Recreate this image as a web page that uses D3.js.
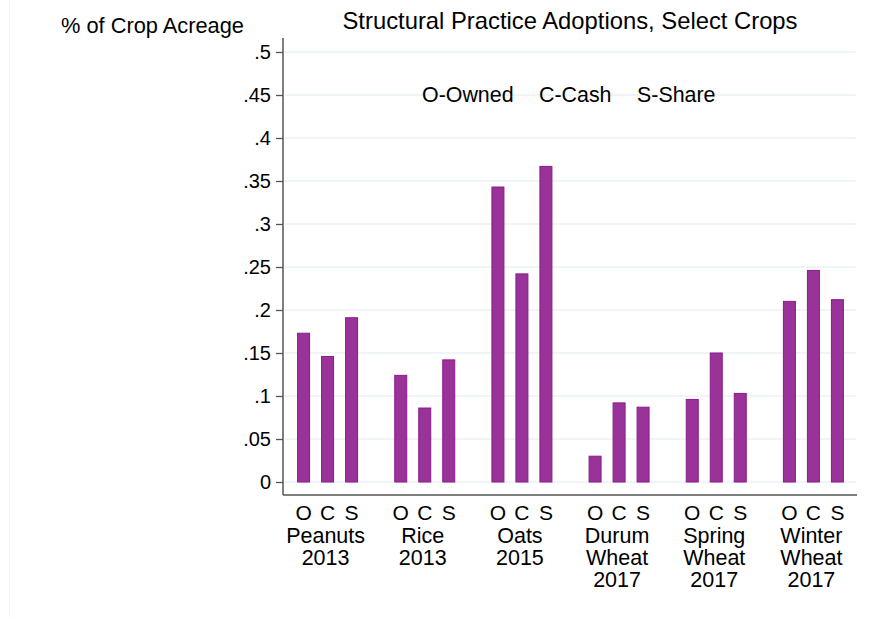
<!DOCTYPE html>
<html>
<head>
<meta charset="utf-8">
<script src="https://cdn.jsdelivr.net/npm/d3@7"></script>
<style>
  body { margin: 0; background: #fff; }
  svg { display: block; font-family: "Liberation Sans", Arial, sans-serif; }
</style>
</head>
<body>
<svg id="chart" width="869" height="617"></svg>
<script>
// crop groups, each label split into lines
const crops = ["Peanuts 2013", "Rice 2013", "Oats 2015", "Durum Wheat 2017", "Spring Wheat 2017", "Winter Wheat 2017"];
const cropLines = [["Peanuts", "2013"], ["Rice", "2013"], ["Oats", "2015"], ["Durum", "Wheat", "2017"], ["Spring", "Wheat", "2017"], ["Winter", "Wheat", "2017"]];
const tenure = ["O", "C", "S"];
const owned = [0.173, 0.124, 0.343, 0.030, 0.096, 0.210];
const cash  = [0.146, 0.086, 0.242, 0.092, 0.150, 0.246];
const share = [0.191, 0.142, 0.367, 0.087, 0.103, 0.212];
const yTicks = [0, 0.05, 0.1, 0.15, 0.2, 0.25, 0.3, 0.35, 0.4, 0.45, 0.5];
const legendItems = ["O-Owned", "C-Cash", "S-Share"];

const svg = d3.select("#chart");
const width = 869, height = 617;

// faint frame on the left
svg.append("line")
  .attr("x1", 9.5).attr("x2", 9.5).attr("y1", 0).attr("y2", height)
  .attr("stroke", "#f3f3f3");

const y = d3.scaleLinear().domain([0, 0.5]).range([482, 52]);
const x0 = d3.scaleBand().domain(crops).range([279, 862]).padding(0);
const x1 = d3.scaleBand().domain(tenure).range([-36, 36]).paddingInner(0.5).paddingOuter(0.25);

const axisLeft = 283, axisRight = 857, axisBottom = 495;

// gridlines
svg.append("g")
  .selectAll("line")
  .data(yTicks)
  .join("line")
  .attr("x1", axisLeft + 2).attr("x2", axisRight - 1)
  .attr("y1", d => y(d)).attr("y2", d => y(d))
  .attr("stroke", "#eaf1f3")
  .attr("stroke-width", 1.5);

// y axis
const yAxis = d3.axisLeft(y)
  .tickValues(yTicks)
  .tickSize(7)
  .tickPadding(5)
  .tickFormat(d => d === 0 ? "0" : d3.format(".2~f")(d).replace(/^0/, ""));

svg.append("g")
  .attr("transform", `translate(${axisLeft},0)`)
  .call(yAxis)
  .call(g => g.select(".domain").remove())
  .call(g => g.selectAll(".tick line").attr("stroke", "#555").attr("stroke-width", 1.3))
  .call(g => g.selectAll(".tick text")
    .attr("fill", "#000")
    .style("font-size", "20px")
    .style("font-family", "Liberation Sans, Arial, sans-serif"));

svg.append("line")
  .attr("x1", axisLeft).attr("x2", axisLeft)
  .attr("y1", 38).attr("y2", axisBottom)
  .attr("stroke", "#555").attr("stroke-width", 1.5);

svg.append("line")
  .attr("x1", axisLeft).attr("x2", axisRight)
  .attr("y1", axisBottom).attr("y2", axisBottom)
  .attr("stroke", "#555").attr("stroke-width", 1.5);

// bars
const rows = [];
crops.forEach((c, i) => {
  rows.push({ crop: c, t: "O", v: owned[i] });
  rows.push({ crop: c, t: "C", v: cash[i] });
  rows.push({ crop: c, t: "S", v: share[i] });
});

svg.append("g")
  .selectAll("rect")
  .data(rows)
  .join("rect")
  .attr("x", d => x0(d.crop) + x0.bandwidth() / 2 + x1(d.t))
  .attr("width", x1.bandwidth())
  .attr("y", d => y(d.v))
  .attr("height", d => y(0) - y(d.v))
  .attr("fill", "#993399")
  .attr("stroke", "#8a1b8a")
  .attr("stroke-width", 1);

// O C S letters under bars
svg.append("g")
  .selectAll("text")
  .data(rows)
  .join("text")
  .attr("x", d => x0(d.crop) + x0.bandwidth() / 2 + x1(d.t) + x1.bandwidth() / 2)
  .attr("y", 520)
  .attr("text-anchor", "middle")
  .style("font-size", "21px")
  .text(d => d.t);

// crop labels
crops.forEach((c, i) => {
  const t = svg.append("text")
    .attr("text-anchor", "middle")
    .style("font-size", "21.5px");
  cropLines[i].forEach((ln, j) => {
    t.append("tspan")
      .attr("x", x0(c) + x0.bandwidth() / 2 - 2)
      .attr("y", 542.5 + j * 22)
      .text(ln);
  });
});

// titles
svg.append("text")
  .attr("x", 570).attr("y", 29)
  .attr("text-anchor", "middle")
  .style("font-size", "23.8px")
  .text("Structural Practice Adoptions, Select Crops");

svg.append("text")
  .attr("x", 61).attr("y", 33)
  .style("font-size", "21.8px")
  .text("% of Crop Acreage");

// legend note
const legendX = [422, 539, 637];
svg.append("g")
  .selectAll("text")
  .data(legendItems)
  .join("text")
  .attr("x", (d, i) => legendX[i])
  .attr("y", 102)
  .style("font-size", "21.4px")
  .text(d => d);
</script>
</body>
</html>
